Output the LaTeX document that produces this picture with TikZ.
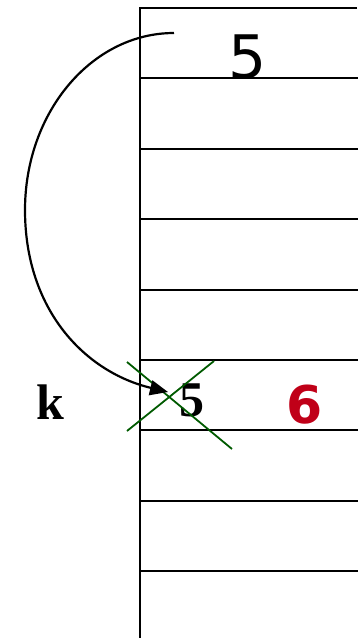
\documentclass[tikz,border=0pt]{standalone}
\usepackage{fontspec}
\setmainfont{Liberation Serif}
\newfontfamily\dvs{DejaVu Sans}
\newfontfamily\dvsb{DejaVu Sans Bold}
\usetikzlibrary{arrows.meta}
\definecolor{darkred}{HTML}{C00018}
\definecolor{crossgreen}{HTML}{005A00}
\tikzset{
  grid line/.style={line width=1.9pt, black},
  cross line/.style={line width=1.8pt, crossgreen},
  swing/.style={line width=2.2pt, -{Triangle[length=18pt,width=15pt]}},
  lbl/.style={inner sep=0pt, anchor=center}
}
\begin{document}
\begin{tikzpicture}[x=1pt,y=-1pt]
\useasboundingbox (0,0) rectangle (357,638);
% grid
\draw[grid line] (357,8) -- (140,8) -- (140,640);
\foreach \y in {78,149,219,290,360,430,501,571}
  \draw[grid line] (140,\y) -- (358,\y);
% texts
\node[lbl] (top5) at (248,57) {\dvs\fontsize{60}{60}\selectfont 5};
\node[lbl] (bot5) at (192,400) {\bfseries\fontsize{50}{50}\selectfont 5};
\node[lbl] (k) at (50,402) {\bfseries\fontsize{50}{50}\selectfont k};
\node[lbl,text=darkred] (six) at (305,405) {\dvsb\fontsize{52}{52}\selectfont 6};
% cross
\coordinate (c1) at (127,362);
\coordinate (c2) at (232,449);
\coordinate (c3) at (127,431);
\coordinate (c4) at (214,361);
\draw[cross line] (c1) -- (c2);
\draw[cross line] (c3) -- (c4);
% arc
\coordinate (arcstart) at (174,33);
\coordinate (arcleft) at (25,210);
\coordinate (arcend) at (168,392);
\draw[swing] (arcstart) .. controls (92,33) and (25,112) .. (arcleft)
  .. controls (25,310) and (85,372) .. (arcend);
\end{tikzpicture}
\end{document}
